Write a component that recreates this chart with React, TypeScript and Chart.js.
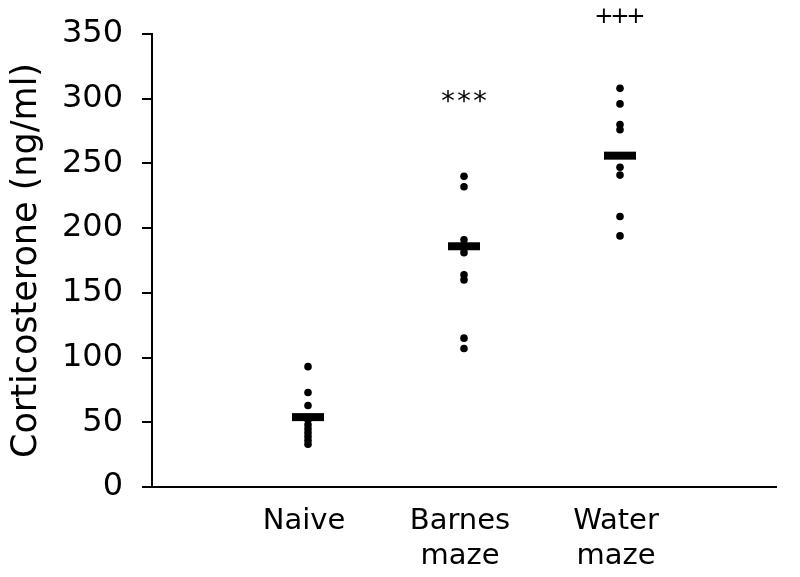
import React, { useEffect, useRef } from "react";
import { Chart, registerables } from "chart.js";

Chart.register(...registerables);

const categories: string[][] = [["Naive"], ["Barnes", "maze"], ["Water", "maze"]];
const naive = [93, 73, 63, 52, 48, 45, 42, 39, 36, 33];
const barnes = [240, 232, 191, 184, 181, 164, 160, 115, 107];
const water = [308, 296, 280, 276, 247, 241, 209, 194];
const means = [54, 186, 256];
const annotations = ["", "***", "+++"];
const annotationValues = [0, 300, 364];
const yTicks = [0, 50, 100, 150, 200, 250, 300, 350];

const FONT = "'DejaVu Sans', Verdana, sans-serif";

const annotationPlugin = {
  id: "sigLabels",
  afterDatasetsDraw(chart: any) {
    const { ctx, scales } = chart;
    ctx.save();
    ctx.fillStyle = "#000";
    ctx.textAlign = "center";
    ctx.textBaseline = "alphabetic";
    annotations.forEach((t, i) => {
      if (!t) return;
      const cx = scales.x.getPixelForValue(i + 1);
      const cy = scales.y.getPixelForValue(annotationValues[i]);
      const chars = t.split("");
      chars.forEach((ch, k) => {
        const x = cx + (k - (chars.length - 1) / 2) * 16;
        if (ch === "*") {
          const size = 27;
          ctx.font = `${size}px ${FONT}`;
          ctx.fillText(ch, x, cy + 0.42 * size);
        } else {
          const size = 23;
          ctx.font = `${size}px ${FONT}`;
          ctx.fillText(ch, x, cy + 0.32 * size);
        }
      });
    });
    ctx.restore();
  },
};

export default function App() {
  const ref = useRef<HTMLCanvasElement>(null);
  useEffect(() => {
    document.body.style.margin = "0";
    const groups = [naive, barnes, water];
    const points = groups.flatMap((g, i) => g.map((v) => ({ x: i + 1, y: v })));
    const meanPts = means.map((v, i) => ({ x: i + 1, y: v }));
    const chart = new Chart(ref.current!, {
      type: "scatter",
      data: {
        datasets: [
          {
            data: points,
            backgroundColor: "#000",
            borderColor: "#000",
            pointRadius: 3.8,
            borderWidth: 0,
          },
          {
            data: meanPts,
            pointStyle: "line",
            pointRadius: 16,
            borderWidth: 8,
            borderColor: "#000",
            backgroundColor: "#000",
          },
        ],
      },
      options: {
        animation: false,
        responsive: false,
        events: [],
        layout: { padding: { top: 34, right: 14, left: 0, bottom: 0 } },
        plugins: { legend: { display: false }, tooltip: { enabled: false } },
        scales: {
          x: {
            type: "linear",
            min: 0,
            max: 4,
            afterBuildTicks: (s: any) => {
              s.ticks = categories.map((_, i) => ({ value: i + 1 }));
            },
            afterFit: (s: any) => {
              s.height = 90;
            },
            ticks: {
              callback: (v: any) => categories[Number(v) - 1] || "",
              color: "#000",
              font: { family: FONT, size: 29, lineHeight: 1.2 },
              labelOffset: -4,
              padding: 17,
              maxRotation: 0,
              autoSkip: false,
            },
            grid: { display: false, drawTicks: false },
            border: { color: "#000", width: 2 },
          },
          y: {
            min: 0,
            max: 350,
            afterBuildTicks: (s: any) => {
              s.ticks = yTicks.map((v) => ({ value: v }));
            },
            afterFit: (s: any) => {
              s.width = 152;
              s.paddingTop = 0;
              s.paddingBottom = 0;
            },
            ticks: {
              color: "#000",
              font: { family: FONT, size: 32, lineHeight: 0.8 },
              padding: 19,
            },
            grid: { drawOnChartArea: false, drawTicks: true, tickLength: 10, color: "#000", lineWidth: 2 },
            border: { color: "#000", width: 2 },
            title: {
              display: true,
              text: "Corticosterone (ng/ml)",
              color: "#000",
              font: { family: FONT, size: 35 },
              padding: { top: 6, bottom: 0 },
            },
          },
        },
      },
      plugins: [annotationPlugin],
    });
    return () => chart.destroy();
  }, []);
  return (
    <div style={{ width: 800, height: 577, background: "#fff" }}>
      <canvas ref={ref} width={800} height={577} />
    </div>
  );
}
